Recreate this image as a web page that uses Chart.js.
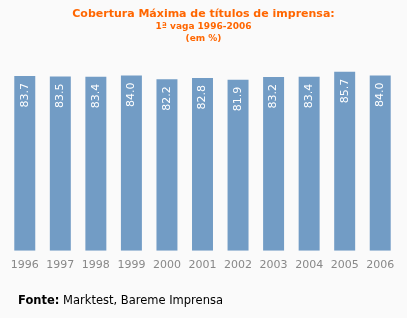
<!DOCTYPE html>
<html>
<head>
<meta charset="utf-8">
<script src="https://cdn.jsdelivr.net/npm/chart.js@4/dist/chart.umd.min.js"></script>
<style>
  html, body { margin: 0; padding: 0; background: #fafafa; }
  #wrap { position: relative; width: 407px; height: 318px; font-family: "DejaVu Sans", Verdana, sans-serif; }
  #chart { position: absolute; left: 0; top: 0; }
  .title { position: absolute; left: 0; width: 407px; text-align: center; color: #ff6600; font-weight: bold; }
  #t1 { top: 7px; font-size: 11px; }
  #t2 { top: 21px; font-size: 9px; }
  #t3 { top: 33px; font-size: 9px; }
  #src { position: absolute; left: 18px; top: 293px; font-size: 11.5px; color: #000; }
</style>
</head>
<body>
<div id="wrap">
  <canvas id="chart" width="407" height="318"></canvas>
  <div class="title" id="t1">Cobertura Máxima de títulos de imprensa:</div>
  <div class="title" id="t2">1ª vaga 1996-2006</div>
  <div class="title" id="t3">(em %)</div>
  <div id="src"><b>Fonte:</b> Marktest, Bareme Imprensa</div>
</div>
<script>
const years    = ["1996", "1997", "1998", "1999", "2000", "2001", "2002", "2003", "2004", "2005", "2006"]
const coverage = [83.7, 83.5, 83.4, 84.0, 82.2, 82.8, 81.9, 83.2, 83.4, 85.7, 84.0]

// value labels written upwards inside the top of each bar
const barLabels = {
  id: "barLabels",
  afterDatasetsDraw(chart) {
    const ctx = chart.ctx
    const meta = chart.getDatasetMeta(0)
    ctx.save()
    ctx.fillStyle = "#ffffff"
    ctx.font = "11px 'DejaVu Sans'"
    ctx.textAlign = "right"
    ctx.textBaseline = "middle"
    meta.data.forEach((bar, i) => {
      ctx.save()
      ctx.translate(bar.x, bar.y + 7)
      ctx.rotate(-Math.PI / 2)
      ctx.fillText(coverage[i].toFixed(1), 0, 0)
      ctx.restore()
    })
    ctx.restore()
  }
}

new Chart(document.getElementById("chart"), {
  type: "bar",
  data: {
    labels: years,
    datasets: [{
      data: coverage,
      backgroundColor: "#729cc5",
      barPercentage: 0.59,
      categoryPercentage: 1
    }]
  },
  options: {
    responsive: false,
    animation: false,
    layout: { padding: { left: 7, right: 9, top: 42, bottom: 38 } },
    plugins: { legend: { display: false }, tooltip: { enabled: false } },
    scales: {
      x: {
        grid: { display: false, drawTicks: false },
        border: { display: false },
        ticks: { color: "#888888", font: { family: "DejaVu Sans", size: 11 }, padding: 8, maxRotation: 0 }
      },
      y: {
        display: false,
        min: 0,
        max: 100
      }
    }
  },
  plugins: [barLabels]
})
</script>
</body>
</html>
